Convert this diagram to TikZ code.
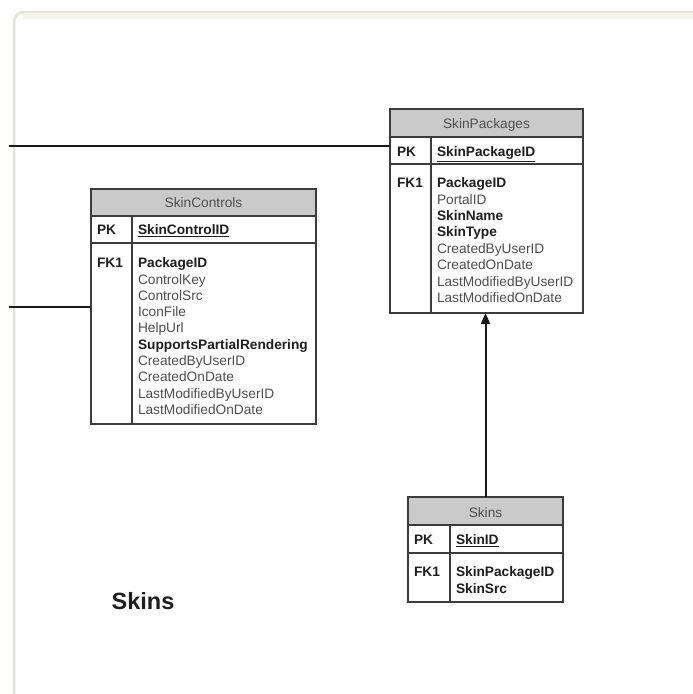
\documentclass[tikz,border=0pt]{standalone}
\usepackage{fontspec}
\setmainfont{Liberation Sans}
\usetikzlibrary{arrows.meta}
\definecolor{hdrfill}{HTML}{CACACA}
\definecolor{boxline}{HTML}{3C3C3C}
\definecolor{regtext}{HTML}{4E4E4E}
\definecolor{boldtext}{HTML}{1E1E1E}
\definecolor{framecol}{HTML}{E4E1D6}
\definecolor{frameshade}{HTML}{F7F2EA}
\begin{document}
\begin{tikzpicture}[x=1pt,y=-1pt,
  every node/.style={inner sep=0pt, outer sep=0pt},
  tablebox/.style={draw=boxline, line width=1.2pt, anchor=north west},
  tline/.style={draw=boxline, line width=1.2pt},
  conn/.style={draw=black!90, line width=1.6pt},
  fld/.style={anchor=base west, text=regtext, font=\fontsize{13.7}{16}\selectfont},
  bfld/.style={anchor=base west, text=boldtext, font=\fontsize{13.7}{16}\selectfont\bfseries},
  hdrtxt/.style={anchor=base, text=regtext, font=\fontsize{13.7}{16}\selectfont},
  keytxt/.style={anchor=base west, text=boldtext, font=\fontsize{13.7}{16}\selectfont\bfseries}]
\useasboundingbox (0,0) rectangle (693,694);
\fill[white] (0,0) rectangle (693,694);
% frame
\draw[frameshade, line width=5pt] (22,16) -- (693,16);
\draw[framecol, line width=2.5pt, rounded corners=10pt] (14,694) -- (14,12) -- (693,12);

% ---------- SkinPackages ----------
\fill[hdrfill] (390,109) rectangle (583,137);
\draw[tline] (390,137) -- (583,137);
\draw[tline] (390,164) -- (583,164);
\draw[tline] (431,137) -- (431,313);
\node[tablebox, minimum width=193pt, minimum height=204pt] (spbox) at (390,109) {};
\node[hdrtxt] (sph) at (486.5,128.7) {SkinPackages};
\node[keytxt] (sppk) at (397,156.7) {PK};
\node[bfld] (spid) at (437,156.7) {\underline{SkinPackageID}};
\node[keytxt] (spfk) at (397,187.7) {FK1};
\node[bfld] (sp1) at (437,187.7) {PackageID};
\node[fld]  (sp2) at (437,204.1) {PortalID};
\node[bfld] (sp3) at (437,220.5) {SkinName};
\node[bfld] (sp4) at (437,236.9) {SkinType};
\node[fld]  (sp5) at (437,253.3) {CreatedByUserID};
\node[fld]  (sp6) at (437,269.7) {CreatedOnDate};
\node[fld]  (sp7) at (437,286.1) {LastModifiedByUserID};
\node[fld]  (sp8) at (437,302.5) {LastModifiedOnDate};

% ---------- SkinControls ----------
\fill[hdrfill] (91,189) rectangle (316,216);
\draw[tline] (91,216) -- (316,216);
\draw[tline] (91,243) -- (316,243);
\draw[tline] (132,216) -- (132,424);
\node[tablebox, minimum width=225pt, minimum height=235pt] (scbox) at (91,189) {};
\node[hdrtxt] (sch) at (203.5,207.7) {SkinControls};
\node[keytxt] (scpk) at (97,234.7) {PK};
\node[bfld] (scid) at (138,234.7) {\underline{SkinControlID}};
\node[keytxt] (scfk) at (97,267.7) {FK1};
\node[bfld] (sc1) at (138,267.7) {PackageID};
\node[fld]  (sc2) at (138,284.0) {ControlKey};
\node[fld]  (sc3) at (138,300.3) {ControlSrc};
\node[fld]  (sc4) at (138,316.6) {IconFile};
\node[fld]  (sc5) at (138,332.9) {HelpUrl};
\node[bfld] (sc6) at (138,349.2) {SupportsPartialRendering};
\node[fld]  (sc7) at (138,365.5) {CreatedByUserID};
\node[fld]  (sc8) at (138,381.8) {CreatedOnDate};
\node[fld]  (sc9) at (138,398.1) {LastModifiedByUserID};
\node[fld]  (sc10) at (138,414.4) {LastModifiedOnDate};

% ---------- Skins ----------
\fill[hdrfill] (408,497) rectangle (563,525);
\draw[tline] (408,525) -- (563,525);
\draw[tline] (408,553) -- (563,553);
\draw[tline] (450,525) -- (450,602);
\node[tablebox, minimum width=155pt, minimum height=105pt] (skbox) at (408,497) {};
\node[hdrtxt] (skh) at (485.5,517.7) {Skins};
\node[keytxt] (skpk) at (414,544.7) {PK};
\node[bfld] (skid) at (456,544.7) {\underline{SkinID}};
\node[keytxt] (skfk) at (414,576.7) {FK1};
\node[bfld] (sk1) at (456,576.7) {SkinPackageID};
\node[bfld] (sk2) at (456,593.1) {SkinSrc};

% ---------- connectors ----------
\coordinate (e1) at (9,146);
\coordinate (e2) at (9,307);
\draw[conn] (e1) -- (e1 -| spbox.west);
\draw[conn] (e2) -- (e2 -| scbox.west);
\draw[conn, line width=2pt, -{Triangle[length=11pt,width=9pt]}] (skbox.north) -- (skbox.north |- spbox.south);

% ---------- title ----------
\node[anchor=base, text=boldtext, font=\fontsize{23.5}{28}\selectfont\bfseries] (title) at (143,609.4) {Skins};
\end{tikzpicture}
\end{document}
